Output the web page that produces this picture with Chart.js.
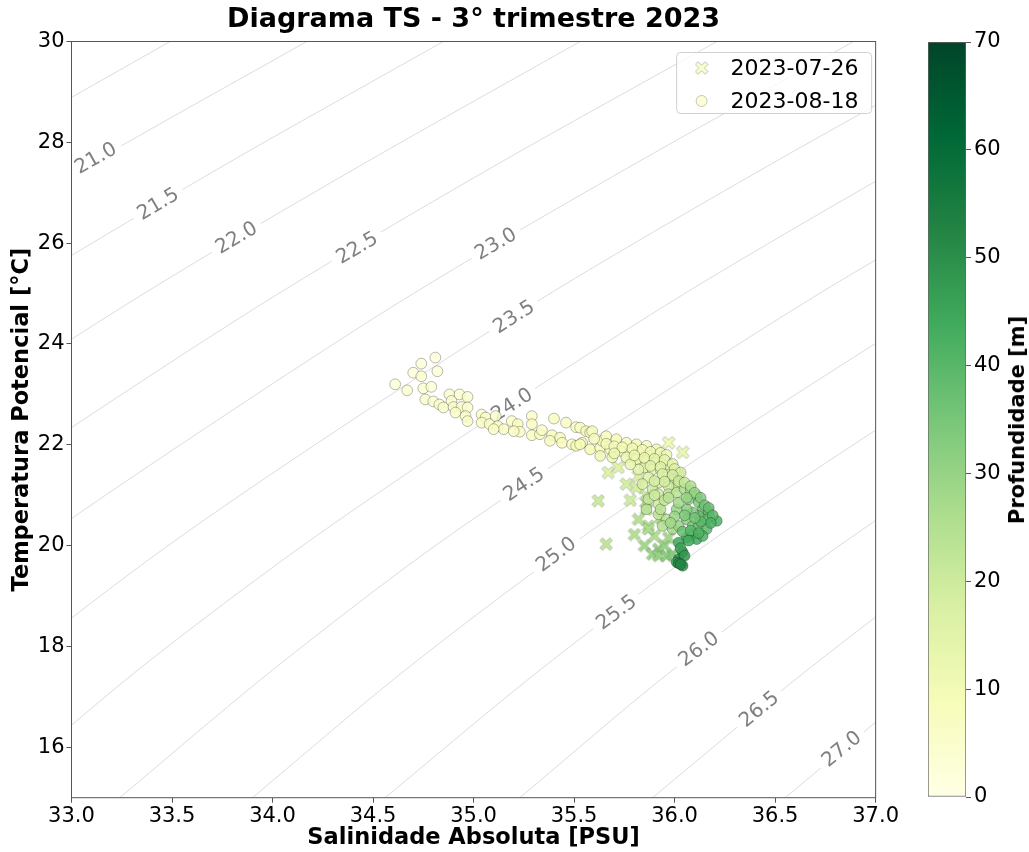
<!DOCTYPE html>
<html>
<head>
<meta charset="utf-8">
<script src="https://cdn.jsdelivr.net/npm/chart.js@4.4.1/dist/chart.umd.min.js"></script>
<style>
  body { margin: 0; background: #fff; }
  #wrap { position: relative; width: 1029px; height: 852px; }
  #ts { position: absolute; left: 0; top: 0; }
  #cbar { position: absolute; left: 900px; top: 0; }
  #cbarLabel {
    position: absolute; left: 1017px; top: 420px;
    transform: translate(-50%, -50%) rotate(-90deg);
    white-space: nowrap; font: bold 21px 'DejaVu Sans', sans-serif; color: #000;
  }
</style>
</head>
<body>
<div id="wrap">
  <canvas id="ts" width="900" height="852"></canvas>
  <canvas id="cbar" width="129" height="852"></canvas>
  <div id="cbarLabel">Profundidade [m]</div>
</div>
<script>
// axis ticks
const xTicks = [33.0, 33.5, 34.0, 34.5, 35.0, 35.5, 36.0, 36.5, 37.0];
const yTicks = [16, 18, 20, 22, 24, 26, 28, 30];
const cbarTicks = [0, 10, 20, 30, 40, 50, 60, 70];

// 2023-07-26 (X markers)
const sal0726 = [35.97, 36.04, 35.67, 35.72, 35.76, 35.81, 35.82, 35.62, 35.86, 35.86, 35.86, 35.87,
  35.66, 35.85, 35.90, 35.92, 35.89, 35.92, 35.96, 35.99, 35.95, 35.97, 35.83, 35.89, 35.82, 35.87,
  35.80, 35.78, 35.93];
const temp0726 = [22.04, 21.85, 21.45, 21.55, 21.22, 21.15, 21.38, 20.89, 20.99, 20.86, 20.72, 20.39,
  20.03, 20.00, 20.19, 19.93, 19.83, 19.80, 19.80, 19.83, 20.00, 20.16, 21.71, 21.71, 20.52, 20.33,
  20.22, 20.90, 20.55];
const depth0726 = [10, 12, 15, 15, 18, 18, 16, 20, 20, 21, 22, 24,
  22, 28, 26, 30, 30, 30, 32, 33, 30, 28, 12, 12, 24, 26,
  25, 19, 26];

// 2023-08-18 (circles)
const sal0818 = [34.61, 34.67, 34.70, 34.74, 34.81, 34.74, 34.82, 34.75, 34.79, 34.76, 34.80, 34.83,
  34.85, 34.88, 34.89, 34.93, 34.97, 34.90, 34.94, 34.97, 34.91, 34.96, 34.97, 35.04, 35.06, 35.04,
  35.08, 35.11, 35.12, 35.15, 35.10, 35.19, 35.22, 35.23, 35.20, 35.29, 35.29, 35.29, 35.33, 35.34,
  35.40, 35.46, 35.51, 35.39, 35.43, 35.38, 35.44, 35.49,
  35.53, 35.56, 35.58, 35.54, 35.51, 35.59, 35.53, 35.58, 35.63, 35.64, 35.68, 35.73, 35.78, 35.82,
  35.87, 35.92,
  35.63, 35.69, 35.76, 35.81, 35.86, 35.91, 35.95, 35.85, 35.89, 35.93, 35.97,
  35.96, 36.00, 36.01, 35.97, 35.92, 35.87, 35.84, 35.89, 35.92, 35.97, 36.01, 36.05, 36.08, 36.11,
  36.12, 36.14, 36.17, 36.21, 36.16, 36.12, 36.09, 36.06,
  35.92, 35.92, 35.96, 35.94, 35.99, 36.02, 36.06, 36.09, 36.12, 36.16,
  36.09, 36.06, 36.02, 36.04, 36.02, 36.04, 36.01, 36.11, 36.14,
  35.66, 35.71, 35.76, 35.81, 35.86, 35.91, 35.97, 36.02, 35.82, 35.78, 35.87, 35.86, 36.07, 36.01,
  35.60, 35.66, 35.70, 35.74, 35.79, 35.84, 35.88, 35.93, 35.96,
  35.70, 35.80, 35.85, 35.90, 35.95, 35.99,
  35.88, 35.93, 36.00, 36.03, 35.94, 35.99,
  36.02, 36.05, 35.95, 35.90, 36.08, 36.10, 36.13,
  36.15, 36.17, 36.19, 36.18, 36.13, 36.10, 36.05,
  36.00, 35.98, 36.04, 36.08, 36.12, 36.07, 36.03, 36.05, 36.02, 36.03,
  35.93, 35.95, 35.90, 35.97, 36.02, 36.06];
const temp0818 = [23.20, 23.08, 23.43, 23.61, 23.73, 23.36, 23.46, 23.12, 23.15, 22.90, 22.86, 22.80,
  22.74, 23.00, 22.87, 23.00, 22.95, 22.75, 22.75, 22.74, 22.64, 22.57, 22.47, 22.60, 22.54, 22.44,
  22.41, 22.57, 22.37, 22.31, 22.31, 22.47, 22.41, 22.26, 22.27, 22.57, 22.41, 22.19, 22.21, 22.29,
  22.52, 22.44, 22.35, 22.19, 22.14, 22.08, 22.04, 22.01,
  22.34, 22.27, 22.24, 22.04, 21.98, 22.27, 22.01, 21.91, 21.94, 22.08, 21.91, 21.88, 21.85, 21.85,
  21.81, 21.78,
  21.78, 21.75, 21.75, 21.71, 21.68, 21.65, 21.68, 21.55, 21.51, 21.51, 21.48,
  21.35, 21.32, 21.18, 21.18, 21.25, 21.35, 21.22, 21.12, 21.02, 21.02, 21.05, 21.12, 21.09, 20.99,
  20.86, 20.72, 20.66, 20.49, 20.52, 20.59, 20.66, 20.72,
  20.82, 20.62, 20.52, 20.39, 20.33, 20.39, 20.52, 20.39, 20.39, 20.33,
  20.23, 20.16, 20.06, 19.87, 19.73, 19.60, 19.67, 20.13, 20.19,
  22.17, 22.11, 22.04, 22.01, 21.98, 21.91, 21.61, 21.42, 21.51, 21.61, 20.92, 20.72, 20.92, 20.72,
  22.12, 22.02, 21.97, 21.95, 21.93, 21.90, 21.86, 21.84, 21.80,
  21.83, 21.79, 21.74, 21.72, 21.70, 21.62,
  21.58, 21.56, 21.52, 21.45, 21.42, 21.40,
  21.28, 21.25, 21.27, 21.28, 21.18, 21.05, 20.95,
  20.80, 20.75, 20.60, 20.45, 20.48, 20.55, 20.60,
  20.58, 20.45, 20.28, 20.30, 20.25, 20.10, 19.95, 19.80, 19.65, 19.63,
  20.72, 20.90, 21.00, 20.95, 20.85, 20.95];
const depth0818 = [3, 4, 2, 3, 2, 4, 3, 4, 3, 5, 4, 5,
  5, 4, 5, 4, 5, 5, 6, 5, 6, 6, 6, 5, 6, 6,
  6, 5, 7, 7, 6, 6, 7, 7, 7, 6, 7, 7, 7, 6,
  7, 7, 7, 8, 8, 8, 8, 8,
  7, 8, 8, 9, 9, 8, 9, 10, 9, 8, 10, 10, 10, 10,
  11, 11,
  11, 12, 12, 13, 13, 14, 14, 15, 15, 16, 16,
  18, 18, 22, 20, 17, 16, 18, 20, 20, 22, 24, 26, 28, 30,
  34, 36, 38, 42, 40, 38, 34, 32,
  20, 22, 24, 26, 28, 30, 32, 34, 36, 40,
  42, 44, 45, 48, 50, 50, 48, 44, 42,
  8, 9, 9, 10, 10, 11, 15, 22, 14, 13, 22, 24, 32, 30,
  8, 9, 9, 10, 10, 10, 11, 11, 12,
  11, 12, 12, 13, 13, 14,
  14, 15, 16, 18, 16, 18,
  20, 22, 18, 18, 26, 30, 33,
  36, 38, 40, 42, 40, 36, 34,
  30, 28, 38, 40, 42, 44, 46, 48, 52, 52,
  24, 22, 20, 24, 28, 30];

// isopycnals (sigma-0): salinity where each level crosses the temperatures below
const isoTemps = [15, 17.5, 20, 22.5, 25, 27.5, 30];
const isoLevels = [20.5, 21.0, 21.5, 22.0, 22.5, 23.0, 23.5, 24.0, 24.5, 25.0, 25.5, 26.0, 26.5, 27.0];
const isoSal = [
  [27.94, 28.67, 29.47, 30.38, 31.34, 32.39, 33.49],
  [28.60, 29.34, 30.14, 31.05, 32.01, 33.06, 34.17],
  [29.26, 30.00, 30.81, 31.72, 32.69, 33.74, 34.85],
  [29.93, 30.66, 31.48, 32.39, 33.36, 34.42, 35.53],
  [30.59, 31.33, 32.14, 33.06, 34.03, 35.09, 36.21],
  [31.25, 31.99, 32.81, 33.73, 34.70, 35.77, 36.89],
  [31.91, 32.66, 33.48, 34.40, 35.38, 36.45, 37.57],
  [32.58, 33.32, 34.15, 35.07, 36.05, 37.12, 38.25],
  [33.24, 33.99, 34.81, 35.74, 36.72, 37.80, 38.93],
  [33.90, 34.65, 35.48, 36.41, 37.40, 38.48, 39.61],
  [34.56, 35.32, 36.15, 37.08, 38.07, 39.15, 40.29],
  [35.23, 35.98, 36.82, 37.75, 38.74, 39.83, 40.97],
  [35.89, 36.65, 37.48, 38.42, 39.41, 40.51, 41.65],
  [36.55, 37.31, 38.15, 39.09, 40.09, 41.18, 42.33]
];
// contour label positions (null = no label)
const labelSal = [null, 33.12, 33.43, 33.82, 34.42, 35.11, 35.20, 35.19, 35.25, 35.41, 35.71, 36.12, 36.42, 36.83];
const labelTemp = [null, 27.69, 26.78, 26.11, 25.91, 25.99, 24.54, 22.80, 21.22, 19.83, 18.68, 17.95, 16.76, 15.97];

// YlGn colormap
const ylgn = [[255,255,229],[247,252,185],[217,240,163],[173,221,142],[120,198,121],
  [65,171,93],[35,132,67],[0,104,55],[0,69,41]];
const depthMax = 70;

function cmap(d, a) {
  let t = Math.max(0, Math.min(1, d / depthMax)) * (ylgn.length - 1);
  let i = Math.min(Math.floor(t), ylgn.length - 2);
  let f = t - i;
  let c = ylgn[i].map((v, k) => Math.round(v + (ylgn[i + 1][k] - v) * f));
  return `rgba(${c[0]},${c[1]},${c[2]},${a === undefined ? 1 : a})`;
}

// filled "X" marker like matplotlib's, as a small canvas used as pointStyle
const xCache = {};
function xMarker(color) {
  if (xCache[color]) return xCache[color];
  const c = document.createElement('canvas');
  c.width = 14; c.height = 14;
  const g = c.getContext('2d');
  g.lineCap = 'square';
  const arms = () => {
    g.beginPath();
    g.moveTo(3.4, 3.4); g.lineTo(10.6, 10.6);
    g.moveTo(10.6, 3.4); g.lineTo(3.4, 10.6);
  };
  arms(); g.strokeStyle = 'rgba(90,120,70,0.45)'; g.lineWidth = 4.4; g.stroke();
  arms(); g.strokeStyle = color; g.lineWidth = 3.1; g.stroke();
  xCache[color] = c;
  return c;
}

Chart.defaults.font.family = "'DejaVu Sans', sans-serif";
Chart.defaults.color = '#000';

// contour line datasets
const isoSets = isoLevels.map((lev, i) => ({
  label: 'sigma ' + lev,
  isoIndex: i,
  data: isoTemps.map((t, k) => ({ x: isoSal[i][k], y: t })),
  showLine: true,
  pointRadius: 0,
  borderColor: 'rgba(128,128,128,0.55)',
  borderWidth: 0.5,
  tension: 0.3,
  order: 10
}));

const contourLabels = {
  id: 'contourLabels',
  afterDatasetDraw(chart, args) {
    const ds = chart.data.datasets[args.index];
    if (ds.isoIndex === undefined) return;
    const i = ds.isoIndex;
    if (labelSal[i] === null) return;
    const xs = chart.scales.x, ys = chart.scales.y;
    const T = labelTemp[i];
    let k = 0;
    while (k < isoTemps.length - 2 && isoTemps[k + 1] < T) k++;
    const x0 = xs.getPixelForValue(isoSal[i][k]), y0 = ys.getPixelForValue(isoTemps[k]);
    const x1 = xs.getPixelForValue(isoSal[i][k + 1]), y1 = ys.getPixelForValue(isoTemps[k + 1]);
    const ang = Math.atan2(y1 - y0, x1 - x0);
    const px = xs.getPixelForValue(labelSal[i]), py = ys.getPixelForValue(T);
    const ctx = chart.ctx, a = chart.chartArea;
    const txt = isoLevels[i].toFixed(1);
    ctx.save();
    ctx.beginPath();
    ctx.rect(a.left, a.top, a.right - a.left, a.bottom - a.top);
    ctx.clip();
    ctx.translate(px, py);
    ctx.rotate(ang);
    ctx.font = "20px 'DejaVu Sans'";
    const w = ctx.measureText(txt).width;
    ctx.fillStyle = '#fff';
    ctx.fillRect(-w / 2 - 6, -9, w + 12, 18);
    ctx.fillStyle = '#808080';
    ctx.textAlign = 'center';
    ctx.textBaseline = 'middle';
    ctx.fillText(txt, 0, 1);
    ctx.restore();
  }
};

const frameAndLegend = {
  id: 'frameAndLegend',
  afterDraw(chart) {
    const ctx = chart.ctx, a = chart.chartArea;
    ctx.save();
    ctx.strokeStyle = '#555';
    ctx.lineWidth = 1;
    ctx.strokeRect(a.left, a.top, a.right - a.left, a.bottom - a.top);

    // legend box, upper right
    const bx = a.right - 199, by = a.top + 11, bw = 195, bh = 61;
    ctx.beginPath();
    ctx.roundRect(bx, by, bw, bh, 4);
    ctx.fillStyle = 'rgba(255,255,255,0.8)';
    ctx.fill();
    ctx.strokeStyle = '#d0d0d0';
    ctx.stroke();
    const entries = chart.data.datasets.filter(d => d.isoIndex === undefined);
    entries.forEach((d, j) => {
      const cy = by + 15.5 + j * 33;
      const mx = bx + 25;
      const isX = d.label === '2023-07-26';
      ctx.fillStyle = cmap(4, 0.85);
      ctx.strokeStyle = 'rgba(0,0,0,0.35)';
      ctx.lineWidth = 0.6;
      Chart.helpers.drawPoint(ctx, {
        pointStyle: isX ? xMarker(cmap(4)) : 'circle',
        radius: 5.5,
        borderWidth: 0.6,
        rotation: 0
      }, mx, cy);
      ctx.fillStyle = '#000';
      ctx.font = "22px 'DejaVu Sans'";
      ctx.textAlign = 'left';
      ctx.textBaseline = 'middle';
      ctx.fillText(d.label, bx + 54, cy + 1);
    });
    ctx.restore();
  }
};

new Chart(document.getElementById('ts'), {
  type: 'scatter',
  data: {
    datasets: [
      {
        label: '2023-07-26',
        data: sal0726.map((s, i) => ({ x: s, y: temp0726[i] })),
        pointStyle: depth0726.map(d => xMarker(cmap(d))),
        pointRadius: 6,
        order: 2
      },
      {
        label: '2023-08-18',
        data: sal0818.map((s, i) => ({ x: s, y: temp0818[i] })),
        pointStyle: 'circle',
        pointRadius: 5.4,
        pointBorderWidth: 0.6,
        pointBorderColor: 'rgba(0,0,0,0.45)',
        pointBackgroundColor: depth0818.map(d => cmap(d, 0.85)),
        order: 1
      },
      ...isoSets
    ]
  },
  options: {
    responsive: false,
    animation: false,
    events: [],
    layout: { padding: { left: 0, right: 23, top: 0, bottom: 0 } },
    plugins: {
      legend: { display: false },
      tooltip: { enabled: false },
      title: {
        display: true,
        fullSize: false,
        text: 'Diagrama TS - 3° trimestre 2023',
        font: { size: 27, weight: 'bold' },
        color: '#000',
        padding: { top: 4, bottom: 5.1 }
      }
    },
    scales: {
      x: {
        type: 'linear',
        min: 33, max: 37,
        afterFit(scale) { scale.height = 54.3; },
        afterBuildTicks(scale) { scale.ticks = xTicks.map(v => ({ value: v })); },
        ticks: { callback: v => v.toFixed(1), font: { size: 21 }, color: '#000', padding: 1, maxRotation: 0 },
        grid: { drawOnChartArea: false, drawTicks: true, tickLength: 5, color: '#555' },
        border: { display: false },
        title: {
          display: true, text: 'Salinidade Absoluta [PSU]',
          font: { size: 22.5, weight: 'bold' }, color: '#000',
          padding: { top: 0, bottom: 0.5 }
        }
      },
      y: {
        type: 'linear',
        min: 15, max: 30,
        afterFit(scale) { scale.width = 71.5; },
        afterBuildTicks(scale) { scale.ticks = yTicks.map(v => ({ value: v })); },
        ticks: { callback: v => String(v), font: { size: 21 }, color: '#000', padding: 2 },
        grid: { drawOnChartArea: false, drawTicks: true, tickLength: 5, color: '#555' },
        border: { display: false },
        title: {
          display: true, text: 'Temperatura Potencial [°C]',
          font: { size: 22.5, weight: 'bold' }, color: '#000',
          padding: { top: 8.5, bottom: 0 }
        }
      }
    }
  },
  plugins: [contourLabels, frameAndLegend]
});

// colorbar
new Chart(document.getElementById('cbar'), {
  type: 'bar',
  data: {
    labels: [''],
    datasets: [{
      data: [depthMax],
      barPercentage: 1,
      categoryPercentage: 1,
      borderWidth: 1,
      borderColor: '#666',
      borderSkipped: false,
      backgroundColor(c) {
        const a = c.chart.chartArea;
        if (!a) return cmap(35);
        const g = c.chart.ctx.createLinearGradient(0, a.bottom, 0, a.top);
        ylgn.forEach((col, i) => g.addColorStop(i / (ylgn.length - 1), `rgb(${col.join(',')})`));
        return g;
      }
    }]
  },
  options: {
    responsive: false,
    animation: false,
    events: [],
    layout: { padding: { left: 28, right: 0, top: 42, bottom: 55 } },
    plugins: { legend: { display: false }, tooltip: { enabled: false } },
    scales: {
      x: { display: false },
      y: {
        position: 'right',
        min: 0, max: depthMax,
        afterFit(scale) { scale.width = 63; },
        afterBuildTicks(scale) { scale.ticks = cbarTicks.map(v => ({ value: v })); },
        ticks: { font: { size: 21 }, color: '#000', padding: 3 },
        grid: { drawOnChartArea: false, drawTicks: true, tickLength: 5, color: '#555' },
        border: { display: false }
      }
    }
  }
});
</script>
</body>
</html>
